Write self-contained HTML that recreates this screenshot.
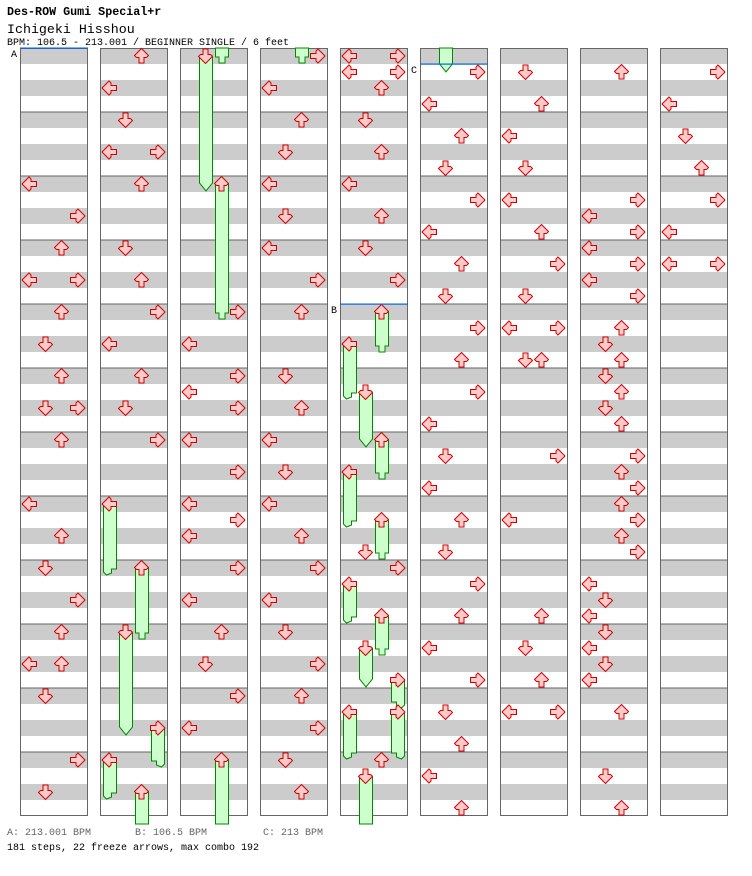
<!DOCTYPE html>
<html><head><meta charset="utf-8"><style>
html,body{margin:0;padding:0;background:#fff;width:752px;height:876px;overflow:hidden}
svg{display:block}
text{font-family:"Liberation Mono",monospace}
</style></head><body>
<svg id="s" width="752" height="876" xmlns="http://www.w3.org/2000/svg">
<text x="7" y="15" font-size="11.7" font-weight="bold" fill="#000">Des-ROW Gumi Special+r</text>
<text x="7" y="33" font-size="13.3" fill="#000">Ichigeki Hisshou</text>
<text x="7" y="45" font-size="10" fill="#000">BPM: 106.5 - 213.001 / BEGINNER SINGLE / 6 feet</text>
<text x="7" y="835" font-size="10" fill="#666">A: 213.001 BPM</text>
<text x="135" y="835" font-size="10" fill="#666">B: 106.5 BPM</text>
<text x="263" y="835" font-size="10" fill="#666">C: 213 BPM</text>
<text x="7" y="850" font-size="10" fill="#000">181 steps, 22 freeze arrows, max combo 192</text>
<g id="g"></g>
</svg>
<script>
var g=document.getElementById('g'),h='';
var L=0,D=1,U=2,R=3;
var arrows=[
[[176,L],[208,R],[240,U],[272,L],[272,R],[304,U],[336,D],[368,U],[400,D],[400,R],[432,U],[496,L],[528,U],[560,D],[592,R],[624,U],[656,L],[656,U],[688,D],[752,R],[784,D]],
[[48,U],[80,L],[112,D],[144,L],[144,R],[176,U],[240,D],[272,U],[304,R],[336,L],[368,U],[400,D],[432,R]],
[[304,R],[336,L],[368,R],[384,L],[400,R],[432,L],[464,R],[496,L],[512,R],[528,L],[560,R],[592,L],[624,U],[656,D],[688,R],[720,L]],
[[48,R],[80,L],[112,U],[144,D],[176,L],[208,D],[240,L],[272,R],[304,U],[368,D],[400,U],[432,L],[464,D],[496,L],[528,U],[560,R],[592,L],[624,D],[656,R],[688,U],[720,R],[752,D],[784,U]],
[[48,L],[48,R],[64,L],[64,R],[80,U],[112,D],[144,U],[176,L],[208,U],[240,D],[272,R],[544,D],[560,R],[752,U]],
[[64,R],[96,L],[128,U],[160,D],[192,R],[224,L],[256,U],[288,D],[320,R],[352,U],[384,R],[416,L],[448,D],[480,L],[512,U],[544,D],[576,R],[608,U],[640,L],[672,R],[704,D],[736,U],[768,L],[800,U]],
[[64,D],[96,U],[128,L],[160,D],[192,L],[224,U],[256,R],[288,D],[320,L],[320,R],[352,D],[352,U],[448,R],[512,L],[608,U],[640,D],[672,U],[704,L],[704,R]],
[[64,U],[192,R],[208,L],[224,R],[240,L],[256,R],[272,L],[288,R],[320,U],[336,D],[352,U],[368,D],[384,U],[400,D],[416,U],[448,R],[464,U],[480,R],[496,U],[512,R],[528,U],[544,R],[576,L],[592,D],[608,L],[624,D],[640,L],[656,D],[672,L],[704,U],[768,D],[800,U]],
[[64,R],[96,L],[128,D],[160,U],[192,R],[224,L],[256,L],[256,R]]
];
var fr=[
[1,496,L,575],[1,560,U,639],[1,624,D,735],[1,720,R,767],[1,752,L,799],[1,784,U,null],
[2,48,D,191],[2,null,U,63],[2,176,U,319],[2,752,U,null],
[3,null,U,63],
[4,304,U,352],[4,336,L,399],[4,384,D,447],[4,432,U,479],[4,464,L,527],[4,512,U,559],[4,576,L,623],[4,608,U,655],[4,640,D,687],[4,672,R,708],[4,704,R,759],[4,704,L,759],[4,768,D,null],
[5,null,D,72]
];
var rot=[-90,180,0,90];
function arrow(x,y,l){return '<path transform="translate('+x+','+y+') rotate('+rot[l]+',7.5,8)" d="M7.5 0.5L14.5 7.5L12.5 9.5L10 9.5L10 15L5 15L5 9.5L2.5 9.5L0.5 7.5Z" fill="#ffcaca" stroke="#d00000" stroke-width="1"/>';}
for(var c=0;c<9;c++){
 var x=20+80*c;
 h+='<rect x="'+x+'" y="48" width="68" height="768" fill="#fff"/>';
 for(var b=0;b<48;b+=2) h+='<rect x="'+x+'" y="'+(48+16*b)+'" width="68" height="16" fill="#cccccc"/>';
 for(var m=1;m<12;m++) h+='<rect x="'+x+'" y="'+(48+64*m-0.5)+'" width="68" height="1" fill="#666"/>';
}
var ovl='';
fr.forEach(function(f){
 var cx=20+80*f[0], lx=cx+2+16*f[2], y0=f[1]===null?48:f[1]+8, e=f[3], bx=lx+1.5, bw=13, p;
 if(e===null){ovl+='<rect x="'+bx+'" y="'+y0+'" width="'+bw+'" height="'+(824-y0)+'" fill="#ccffcc" stroke="#008800"/>';}
 else{
  var t;
  if(f[2]==D){t='L'+(bx+bw)+' '+(e-8)+'L'+(bx+bw/2)+' '+e+'L'+bx+' '+(e-8);}
  else if(f[2]==U){t='L'+(bx+bw)+' '+(e-6)+'L'+(bx+9.5)+' '+(e-6)+'L'+(bx+9.5)+' '+e+'L'+(bx+3.5)+' '+e+'L'+(bx+3.5)+' '+(e-6)+'L'+bx+' '+(e-6);}
  else if(f[2]==L){t='L'+(bx+bw)+' '+(e-6)+'L'+(bx+8)+' '+(e-6)+'L'+(bx+8)+' '+(e-2)+'L'+(bx+3)+' '+e+'L'+bx+' '+(e-3);}
  else {t='L'+(bx+bw)+' '+(e-3)+'L'+(bx+bw-3)+' '+e+'L'+(bx+5)+' '+(e-2)+'L'+(bx+5)+' '+(e-6)+'L'+bx+' '+(e-6);}
  p='M'+bx+' '+y0+'L'+(bx+bw)+' '+y0+t+'Z';
  ovl+='<path d="'+p+'" fill="#ccffcc" stroke="#008800" stroke-width="1"/>';
 }
});
for(var c=0;c<9;c++){var x=20+80*c;h+='<rect x="'+(x+0.5)+'" y="48.5" width="67" height="767" fill="none" stroke="#666"/>';}
h+=ovl;
fr.forEach(function(f){if(f[1]!==null)h+=arrow(20+80*f[0]+2+16*f[2],f[1],f[2]);});
arrows.forEach(function(a,c){a.forEach(function(q){h+=arrow(20+80*c+2+16*q[1],q[0],q[1]);});});
h+='<rect x="20" y="47.5" width="68" height="1.2" fill="#0066dd"/><text x="11" y="57" font-size="10" fill="#000">A</text>';
h+='<rect x="340" y="303.5" width="68" height="1.2" fill="#0066dd"/><text x="331" y="313" font-size="10" fill="#000">B</text>';
h+='<rect x="420" y="63.5" width="68" height="1.2" fill="#0066dd"/><text x="411" y="73" font-size="10" fill="#000">C</text>';
g.innerHTML=h;
</script>
</body></html>
